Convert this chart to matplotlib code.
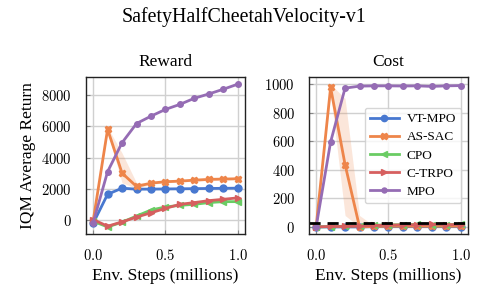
import matplotlib
matplotlib.use("Agg")
import matplotlib.pyplot as plt
import numpy as np
from matplotlib.ticker import FuncFormatter

plt.rcParams['font.family'] = ['Liberation Serif', 'DejaVu Serif']
plt.rcParams['mathtext.fontset'] = 'cm'

steps = [0.0, 0.1, 0.2, 0.3, 0.4, 0.5, 0.6, 0.7, 0.8, 0.9, 1.0]
methods = ['VT-MPO', 'AS-SAC', 'CPO', 'C-TRPO', 'MPO']
colors = ['#4878d0', '#ee854a', '#6acc64', '#d65f5f', '#956cb4']
markers = ['o', 'X', '<', '>', '.']

# reward (IQM average return)
reward_vtmpo = [-190, 1670, 2060, 1995, 2000, 2010, 2020, 2030, 2040, 2050, 2060]
reward_assac = [-50, 5810, 3020, 2170, 2380, 2470, 2510, 2570, 2620, 2640, 2660]
reward_cpo = [-50, -410, -110, 280, 665, 860, 965, 1030, 1140, 1200, 1200]
reward_ctrpo = [60, -365, -90, 215, 490, 770, 1030, 1140, 1265, 1350, 1440]
reward_mpo = [-150, 3110, 4955, 6180, 6650, 7080, 7400, 7790, 8065, 8365, 8690]
reward_assac_lo = [-100, 5650, 2400, 2050, 2300, 2400, 2450, 2500, 2550, 2580, 2600]
reward_assac_hi = [0, 5950, 4300, 2400, 2450, 2540, 2580, 2640, 2690, 2700, 2720]

# cost
cost_vtmpo = [0, 0, 0, 0, 2, 2, 2, 2, 2, 2, 2]
cost_assac = [0, 977, 437, 0, 3, 5, 5, 5, 5, 5, 5]
cost_cpo = [0, 2, 5, 8, 12, 15, 15, 18, 15, 15, 18]
cost_ctrpo = [0, 3, 3, 5, 10, 12, 15, 15, 18, 16, 16]
cost_mpo = [0, 595, 972, 986, 988, 988, 987, 988, 984, 988, 990]
cost_assac_lo = [0, 940, 80, 0, 0, 2, 2, 2, 2, 2, 2]
cost_assac_hi = [0, 1000, 900, 80, 8, 10, 10, 10, 10, 10, 10]
cost_limit = 25

rewards = [reward_vtmpo, reward_assac, reward_cpo, reward_ctrpo, reward_mpo]
costs = [cost_vtmpo, cost_assac, cost_cpo, cost_ctrpo, cost_mpo]

fig = plt.figure(figsize=(4.88, 3.02), dpi=100)
ax1 = fig.add_axes([0.176, 0.225, 0.326, 0.52])
ax2 = fig.add_axes([0.633, 0.225, 0.326, 0.52])

for ax in (ax1, ax2):
    ax.grid(True, color='#d0d0d0', linewidth=1.0)
    ax.set_axisbelow(True)
    for sp in ax.spines.values():
        sp.set_color('#222222')
        sp.set_linewidth(1.0)
    ax.tick_params(direction='in', length=3, width=0.8, color='#888888', labelsize=10.5, pad=10)
    ax.set_xticks([0.0, 0.5, 1.0])
    ax.xaxis.set_major_formatter(FuncFormatter(lambda v, p: '$%.1f$' % v))
    ax.yaxis.set_major_formatter(FuncFormatter(lambda v, p: '$%d$' % v))
    ax.set_xlabel('Env. Steps (millions)', fontsize=12.5, labelpad=4)

ax1.fill_between(steps, reward_assac_lo, reward_assac_hi, color=colors[1], alpha=0.2, linewidth=0)
ax2.fill_between(steps, cost_assac_lo, cost_assac_hi, color=colors[1], alpha=0.2, linewidth=0)

for i, name in enumerate(methods):
    ms = 8 if markers[i] == '.' else 5
    ax1.plot(steps, rewards[i], color=colors[i], marker=markers[i], markersize=ms, linewidth=2, label=name)
    ax2.plot(steps, costs[i], color=colors[i], marker=markers[i], markersize=ms, linewidth=2, label=name)

ax2.axhline(cost_limit, color='black', linestyle='--', linewidth=2, dashes=(4, 2.5))

ax1.set_yticks([0, 2000, 4000, 6000, 8000])
ax2.set_yticks([0, 200, 400, 600, 800, 1000])
ax1.set_title('Reward', fontsize=12.5, pad=8)
ax2.set_title('Cost', fontsize=12.5, pad=8)
ax1.set_ylabel('IQM Average Return', fontsize=12.5, labelpad=4)

leg = ax2.legend(loc='center right', fontsize=9.5, framealpha=0.8, handlelength=2.2,
                 handletextpad=0.6, borderpad=0.4, labelspacing=0.45, fancybox=True,
                 markerscale=0.9)
leg.get_frame().set_edgecolor('#cccccc')

fig.suptitle('SafetyHalfCheetahVelocity-v1', fontsize=14.3, y=0.975)

fig.savefig('out.png', dpi=100)
